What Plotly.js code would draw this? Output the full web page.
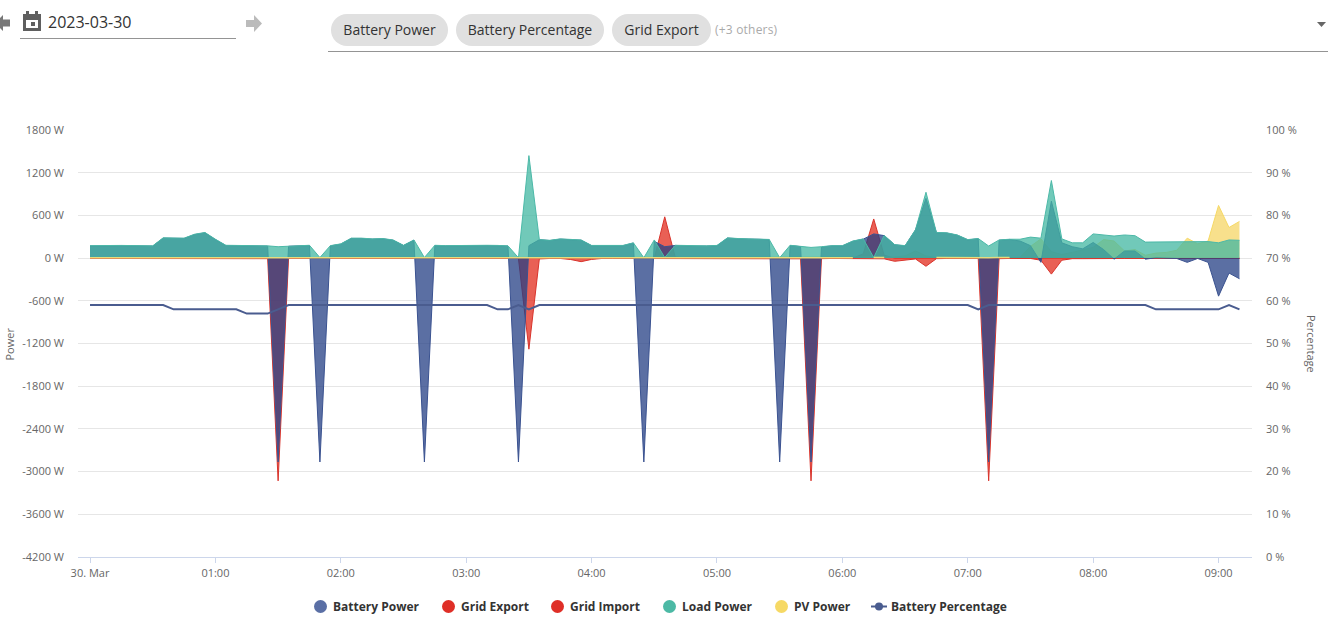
<!DOCTYPE html>
<html><head><meta charset="utf-8">
<script src="https://cdn.plot.ly/plotly-3.0.1.min.js"></script>
<style>
html,body{margin:0;padding:0;background:#fff;font-family:"Open Sans",sans-serif;overflow:hidden}
#chart{position:absolute;left:0;top:0;width:1328px;height:638px}
.a{position:absolute;white-space:nowrap}
.chip{position:absolute;top:14px;height:32px;line-height:32px;border-radius:16px;background:#e0e0e0;color:#333;font-size:14px;text-align:center}
.lg{position:absolute;top:598px;font-size:12px;font-weight:700;color:#333;line-height:17px;white-space:nowrap}
.dot{position:absolute;top:600px;width:13px;height:13px;border-radius:50%}
</style></head><body>
<div id="chart"></div>
<svg class="a" style="left:0;top:0" width="300" height="45">
<path d="M10 19.500v7H3v4.500L-5 23l8-8v4.500z" fill="#777"/>
<path d="M246 20h8v-5l8 8.500-8 8.500v-5h-8z" fill="#bbb"/>
<path d="M23 14h18v17H23z M26 20v8h12v-8z M31 22h4v4h-4z" fill="#5f5f5f" fill-rule="evenodd"/>
<path d="M26 11h3v4h-3z M35 11h3v4h-3z" fill="#5f5f5f"/>
</svg>
<div class="a" style="left:48px;top:11px;font-size:16px;color:#333;line-height:22px">2023-03-30</div>
<div class="a" style="left:20px;top:38px;width:216px;height:1px;background:#949494"></div>
<div class="chip" style="left:331px;width:117px">Battery Power</div>
<div class="chip" style="left:456px;width:148px">Battery Percentage</div>
<div class="chip" style="left:612px;width:99px">Grid Export</div>
<div class="a" style="left:715px;top:21px;font-size:12px;color:#aaa;line-height:17px;letter-spacing:0.2px">(+3 others)</div>
<div class="a" style="left:328px;top:51px;width:1000px;height:1px;background:#949494"></div>
<svg class="a" style="left:1316px;top:20px" width="12" height="10"><path d="M1 2h9L5.500 7z" fill="#666"/></svg>
<div id="legend"></div>
<script>
var load=[175,178,178,178,176,175,172,285,280,280,335,360,265,180,178,176,175,172,160,170,
175,180,8,175,200,280,280,270,275,255,180,255,8,180,175,178,178,180,180,178,
172,5,1440,260,250,270,265,255,178,175,175,178,215,5,255,8,180,175,172,172,
178,285,275,270,268,262,5,180,165,150,160,175,175,240,270,8,320,190,175,400,
925,360,355,325,260,275,170,255,265,265,295,280,1090,270,215,215,340,330,310,325,
315,225,225,230,235,232,235,232,215,255,250];
var battery=[170,174,174,174,172,171,168,280,276,276,330,355,260,176,174,172,171,168,-2865,166,
171,176,-2865,171,196,276,276,266,271,251,176,251,-2865,176,171,174,174,176,176,174,
168,-2865,175,258,246,266,261,251,174,171,171,174,211,-2865,235,160,178,171,168,168,
174,280,271,266,264,258,-2865,176,161,-2865,156,171,171,236,266,340,316,186,171,396,
840,356,351,321,256,271,-2865,251,262,240,175,-60,800,215,160,130,220,120,-15,100,
100,-15,5,5,-5,-60,-5,-60,-535,-210,-290];
var gridExport=[0,0,0,0,0,0,0,0,0,0,0,0,0,0,0,0,0,0,0,0,
0,0,0,0,0,0,0,0,0,0,0,0,0,0,0,0,0,0,0,0,
0,0,0,0,0,0,0,0,0,0,0,0,0,0,0,580,15,0,0,0,
0,0,0,0,0,0,0,0,0,0,0,0,0,0,60,550,40,0,0,0,
0,0,0,0,0,0,0,0,0,0,0,0,0,0,0,0,0,0,0,0,
0,0,0,0,0,0,0,0,0,0,0];
var gridImport=[-5,-5,-8,-10,-8,-5,-5,-5,-8,-5,-5,-12,-10,-5,-5,-8,-5,-8,-3130,-6,
-5,-5,-6,-5,-10,-12,-8,-5,-5,-10,-12,-8,-5,-8,-5,-5,-5,-8,-10,-5,
-5,-5,-1280,-12,-5,-5,-20,-50,-18,-5,-5,-5,-5,-5,-8,-5,-10,-8,-5,-5,
-8,-10,-10,-8,-10,-8,-5,-8,-10,-3130,-8,-5,-5,-8,-10,-5,-10,-45,-30,-12,
-115,-8,-5,-5,-5,-5,-3130,-8,-5,-5,-5,-30,-225,-30,-8,-8,-5,-5,-5,-5,
-5,-5,-5,-5,-5,-5,-5,-5,-5,-5,-5];
var pv=[6,6,6,6,6,8,8,8,6,6,8,8,8,6,6,6,6,6,6,6,
6,8,6,8,6,6,8,8,6,6,8,6,6,6,8,8,6,6,6,6,
6,6,6,6,8,6,6,6,6,8,8,8,6,6,8,8,6,8,6,6,
8,8,6,6,6,8,6,8,8,8,6,6,8,6,15,10,8,15,30,100,
30,8,6,6,8,6,6,8,8,8,165,270,90,50,80,120,150,260,240,100,
120,40,70,80,110,280,200,240,740,430,515];
var percent=[59,59,59,59,59,59,59,59,58,58,58,58,58,58,58,57,57,57,58,59,
59,59,59,59,59,59,59,59,59,59,59,59,59,59,59,59,59,59,59,58,
58,59,58,59,59,59,59,59,59,59,59,59,59,59,59,59,59,59,59,59,
59,59,59,59,59,59,59,59,59,59,59,59,59,59,59,59,59,59,59,59,
59,59,59,59,59,58,59,59,59,59,59,59,59,59,59,59,59,59,59,59,
59,59,58,58,58,58,58,58,58,59,58];
var powerTicks=[1800,1200,600,0,-600,-1200,-1800,-2400,-3000,-3600,-4200];
var percentTicks=[100,90,80,70,60,50,40,30,20,10,0];
var hourTicks=['2023-03-30 00:00','2023-03-30 01:00','2023-03-30 02:00','2023-03-30 03:00','2023-03-30 04:00','2023-03-30 05:00','2023-03-30 06:00','2023-03-30 07:00','2023-03-30 08:00','2023-03-30 09:00'];
var hourLabels=['30. Mar','01:00','02:00','03:00','04:00','05:00','06:00','07:00','08:00','09:00'];
var seriesNames=['Battery Power','Grid Export','Grid Import','Load Power','PV Power','Battery Percentage'];

var times=load.map(function(_,i){var m=i*5;var h=Math.floor(m/60);m=m%60;
  return '2023-03-30 '+(h<10?'0':'')+h+':'+(m<10?'0':'')+m;});
function area(name,v,line,fill){return {type:'scatter',mode:'lines',name:name,x:times,y:v,fill:'tozeroy',fillcolor:fill,
  line:{color:line,width:1},showlegend:false};}
var traces=[
 area(seriesNames[1],gridExport,'#d9342c','rgba(225,43,28,0.75)'),
 area(seriesNames[2],gridImport,'#d9342c','rgba(225,43,28,0.75)'),
 area(seriesNames[4],pv,'#f6d965','rgba(245,213,101,0.75)'),
 area(seriesNames[0],battery,'#3a5290','rgba(36,63,132,0.75)'),
 area(seriesNames[3],load,'#4cb9a8','rgba(65,183,162,0.75)'),
 {type:'scatter',mode:'lines',name:seriesNames[4],x:times.slice(0,89),y:pv.slice(0,89).map(function(v){return v<=10?v:null}),line:{color:'#e6dc7c',width:1.5},showlegend:false},
 {type:'scatter',mode:'lines',name:seriesNames[5],x:times,y:percent,yaxis:'y2',line:{color:'#4a5c8f',width:2},showlegend:false}
];

var font={family:'"Open Sans",sans-serif',size:11,color:'#666'};
var layout={width:1328,height:638,margin:{l:78,r:76,t:130,b:81},paper_bgcolor:'rgba(0,0,0,0)',plot_bgcolor:'rgba(0,0,0,0)',
 font:font,showlegend:false,
 xaxis:{type:'date',range:['2023-03-29 23:54:15','2023-03-30 09:16:00'],tickmode:'array',tickvals:hourTicks,ticktext:hourLabels,
  showgrid:false,zeroline:false,showline:true,linecolor:'#ccd6eb',linewidth:1,ticks:'outside',ticklen:5,tickcolor:'#ccd6eb',tickwidth:1,ticklabelstandoff:1,tickfont:font},
 yaxis:{range:[-4200,1800],tickmode:'array',tickvals:powerTicks,ticktext:powerTicks.map(function(v){return v+' W'}),
  gridcolor:'#e6e6e6',gridwidth:1,zeroline:false,showline:false,ticks:'',ticklabelstandoff:13,tickfont:font},
 yaxis2:{overlaying:'y',side:'right',range:[0,100],tickmode:'array',tickvals:percentTicks,ticktext:percentTicks.map(function(v){return v+' %'}),
  showgrid:false,zeroline:false,showline:false,ticks:'',ticklabelstandoff:13,tickfont:font},
 annotations:[
  {text:'Power',xref:'paper',yref:'paper',x:(8.5-78)/1174,y:(557-344)/427,textangle:-90,showarrow:false,font:font,xanchor:'center',yanchor:'middle'},
  {text:'Percentage',xref:'paper',yref:'paper',x:(1312-78)/1174,y:(557-344)/427,textangle:90,showarrow:false,font:font,xanchor:'center',yanchor:'middle'}
 ]
};
Plotly.newPlot('chart',traces,layout,{displayModeBar:false,staticPlot:true});

var lgX=[333,461,570,682,794,891], dotX=[314,442,551,663,775];
var lgColors=['#5a6fa5','#df2f27','#df2f27','#4cb9a5','#f6d965'];
var h='';
seriesNames.forEach(function(n,i){
  h+='<div class="lg" style="left:'+lgX[i]+'px">'+n+'</div>';
  if(i<5) h+='<div class="dot" style="left:'+dotX[i]+'px;background:'+lgColors[i]+'"></div>';
});
h+='<svg class="a" style="left:871px;top:600px" width="16" height="13"><path d="M0 6.500h16" stroke="#4a5c8f" stroke-width="2"/><circle cx="8" cy="6.500" r="4" fill="#4a5c8f"/></svg>';
document.getElementById('legend').innerHTML=h;
</script>
</body></html>
